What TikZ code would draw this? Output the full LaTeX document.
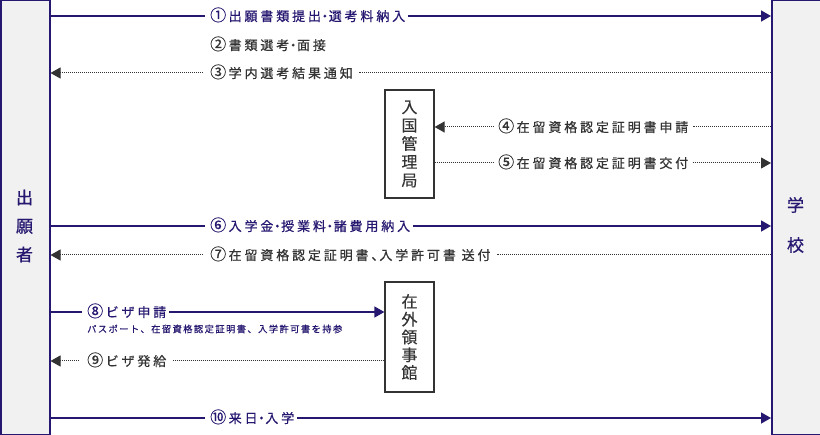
\documentclass[tikz,border=0pt]{standalone}
\usepackage{fontspec}
\setmainfont{Noto Sans CJK JP}
\newfontfamily\labfam[LetterSpace=22,FakeBold=0.6]{Noto Sans CJK JP}
\newfontfamily\subfam[LetterSpace=15,FakeBold=0.4]{Noto Sans CJK JP}
\newfontfamily\colfam[FakeBold=0.8]{Noto Sans CJK JP}
\newfontfamily\boxfam[FakeBold=0.3]{Noto Sans CJK JP}
\usetikzlibrary{arrows.meta}
\definecolor{navy}{RGB}{38,24,112}
\definecolor{ink}{RGB}{51,51,51}
\definecolor{colfill}{RGB}{241,241,241}
\newcommand{\dt}{\kern-2.6pt・\kern-2.6pt}
\newcommand{\cn}[1]{{\fontsize{16}{15}\selectfont #1}\kern2.5pt}
\tikzset{
  column/.style={draw=navy, line width=1.5pt, fill=colfill, minimum width=49pt, minimum height=434pt, anchor=north west, inner sep=0pt},
  coltext/.style={text=navy, align=center, inner sep=0pt},
  office/.style={draw=ink, line width=1.2pt, fill=white, minimum width=49pt, inner sep=0pt, text=ink, align=center},
  lab/.style={anchor=west, inner sep=0pt, text height=11pt, text depth=1pt, font=\labfam\fontsize{13}{15}\selectfont},
  navylab/.style={lab, text=navy},
  inklab/.style={lab, text=ink},
  sublab/.style={anchor=west, inner sep=0pt, text=navy, text height=8pt, text depth=1pt, font=\subfam\fontsize{9.3}{11}\selectfont},
  solidline/.style={draw=navy, line width=1.4pt},
  solidarr/.style={solidline, -{Triangle[length=10pt,width=11pt]}},
  dotline/.style={draw=ink, line width=1pt, dash pattern=on 1pt off 1pt},
  dotarr/.style={dotline, -{Triangle[length=10pt,width=11pt]}},
}
\begin{document}
\begin{tikzpicture}[x=1pt,y=-1pt]
\useasboundingbox (0,0) rectangle (820,435);
% columns
\node[column] (app) at (0,0) {};
\node[column] (sch) at (771,0) {};
\node[coltext, font=\colfam\fontsize{17}{28.5}\selectfont] (appt) at (24.5,226) {出\\願\\者};
\node[coltext, font=\colfam\fontsize{17}{40}\selectfont] (scht) at (795.5,225) {学\\校};
% offices
\node[office, minimum height=108pt, font=\boxfam\fontsize{16}{18.3}\selectfont] (imm) at (409.5,144) {入\\国\\管\\理\\局};
\node[office, minimum height=110pt, font=\boxfam\fontsize{16}{17.8}\selectfont] (cons) at (409.5,337) {在\\外\\領\\事\\館};
% labels
\node[navylab] (l1) at (210,16) {\cn{①}出願書類提出\dt 選考料納入};
\node[inklab] (l2) at (210,45) {\cn{②}書類選考\dt 面接};
\node[inklab] (l3) at (210,73) {\cn{③}学内選考結果通知};
\node[inklab] (l4) at (498,127) {\cn{④}在留資格認定証明書申請};
\node[inklab] (l5) at (498,163) {\cn{⑤}在留資格認定証明書交付};
\node[navylab] (l6) at (210,226) {\cn{⑥}入学金\dt 授業料\dt 諸費用納入};
\node[inklab] (l7) at (210,255) {\cn{⑦}在留資格認定証明書、\kern-5pt 入学許可書 送付};
\node[navylab] (l8) at (87,312) {\cn{⑧}ビザ申請};
\node[sublab] (s8) at (87,329) {パスポート、在留資格認定証明書、入学許可書を持参};
\node[inklab] (l9) at (87,361) {\cn{⑨}ビザ発給};
\node[navylab] (l10) at (210,418) {\cn{⑩}来日\dt 入学};
% connectors
\draw[solidline] (app.east |- l1) -- ([xshift=-5pt]l1.west);
\draw[solidarr] ([xshift=3pt]l1.east) -- (sch.west |- l1);
\draw[dotarr] ([xshift=-7pt]l3.west) -- (app.east |- l3);
\draw[dotline] (sch.west |- l3) -- ([xshift=6pt]l3.east);
\draw[dotarr] ([xshift=-4pt]l4.west) -- (imm.east |- l4);
\draw[dotline] (sch.west |- l4) -- ([xshift=4pt]l4.east);
\draw[dotline] (imm.east |- l5) -- ([xshift=-4pt]l5.west);
\draw[dotarr] ([xshift=4pt]l5.east) -- (sch.west |- l5);
\draw[solidline] (app.east |- l6) -- ([xshift=-5pt]l6.west);
\draw[solidarr] ([xshift=3pt]l6.east) -- (sch.west |- l6);
\draw[dotarr] ([xshift=-7pt]l7.west) -- (app.east |- l7);
\draw[dotline] (sch.west |- l7) -- ([xshift=6pt]l7.east);
\draw[solidline] (app.east |- l8) -- ([xshift=-5pt]l8.west);
\draw[solidarr] ([xshift=3pt]l8.east) -- (cons.west |- l8);
\draw[dotarr] ([xshift=-8pt]l9.west) -- (app.east |- l9);
\draw[dotline] (cons.west |- l9) -- ([xshift=6pt]l9.east);
\draw[solidline] (app.east |- l10) -- ([xshift=-5pt]l10.west);
\draw[solidarr] ([xshift=3pt]l10.east) -- (sch.west |- l10);
\end{tikzpicture}
\end{document}
